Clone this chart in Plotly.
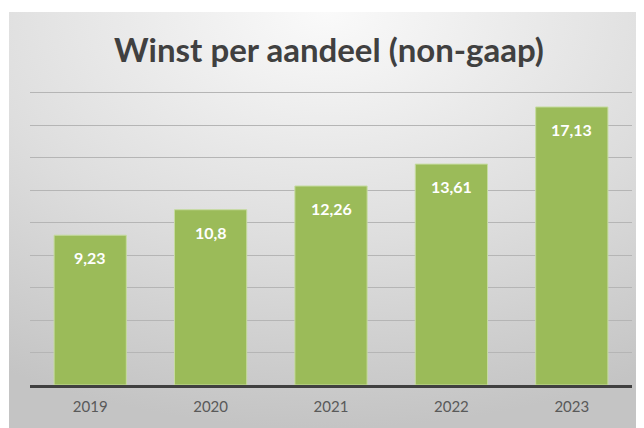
import base64
import plotly.graph_objects as go

years = ["2019", "2020", "2021", "2022", "2023"]
eps = [9.23, 10.8, 12.26, 13.61, 17.13]
labels = ["9,23", "10,8", "12,26", "13,61", "17,13"]

bar_color = "#9BBB59"
font_family = "Lato, 'Open Sans', sans-serif"

# figure is rendered with an 8px page margin, so it is sized 636x420
W, H = 636, 420
PL, PR, PT, PB = 22, 12, 80, 43
pw, ph = W - PL - PR, H - PT - PB

svg = """<svg xmlns='http://www.w3.org/2000/svg' width='635' height='416' viewBox='0 0 635 416' preserveAspectRatio='none'>
<defs><radialGradient id='g' cx='0.5' cy='0.0' r='1.0' fx='0.5' fy='0.0'>
<stop offset='0' stop-color='#fafafa'/><stop offset='0.55' stop-color='#dedede'/><stop offset='1' stop-color='#c4c4c4'/>
</radialGradient></defs><rect width='635' height='416' fill='url(#g)'/></svg>"""
bg_uri = "data:image/svg+xml;base64," + base64.b64encode(svg.encode()).decode()

fig = go.Figure(
    go.Bar(
        x=years,
        y=eps,
        marker=dict(color=bar_color, line=dict(color="#c6dca0", width=1)),
        width=0.6,
        textposition="none",
        hoverinfo="x+y",
    )
)

# value labels inside the top of each bar (category index positions on the category axis)
for i, (v, lab) in enumerate(zip(eps, labels)):
    fig.add_annotation(
        x=i,
        y=v,
        text=f"<b>{lab}</b>",
        showarrow=False,
        yanchor="top",
        yshift=-11,
        font=dict(family=font_family, size=16, color="white"),
    )

fig.update_layout(
    width=W,
    height=H,
    margin=dict(l=PL, r=PR, t=PT, b=PB),
    paper_bgcolor="white",
    plot_bgcolor="rgba(0,0,0,0)",
    separators=",.",
    showlegend=False,
    title=dict(
        text="<b>Winst per aandeel (non-gaap)</b>",
        x=(329 - 8) / W,
        xanchor="center",
        y=1 - 42 / H,
        yanchor="middle",
        font=dict(family=font_family, size=33, color="#404040"),
    ),
    images=[
        dict(
            source=bg_uri,
            xref="paper",
            yref="paper",
            x=(1 - PL) / pw,
            y=(PT + ph - 4) / ph,
            sizex=(W - 1) / pw,
            sizey=(H - 4) / ph,
            xanchor="left",
            yanchor="top",
            sizing="stretch",
            layer="below",
        )
    ],
    xaxis=dict(
        type="category",
        range=[-0.5, len(years) - 0.5],
        showgrid=False,
        showline=True,
        linecolor="#404040",
        linewidth=2.5,
        ticks="outside",
        ticklen=6,
        tickcolor="rgba(0,0,0,0)",
        tickfont=dict(family=font_family, size=15, color="#595959"),
    ),
    yaxis=dict(
        range=[0, 18.3],
        dtick=2,
        showticklabels=False,
        showgrid=True,
        gridcolor="#b5b5b5",
        gridwidth=1,
        zeroline=False,
        showline=False,
    ),
)

fig.write_html("out.html")
